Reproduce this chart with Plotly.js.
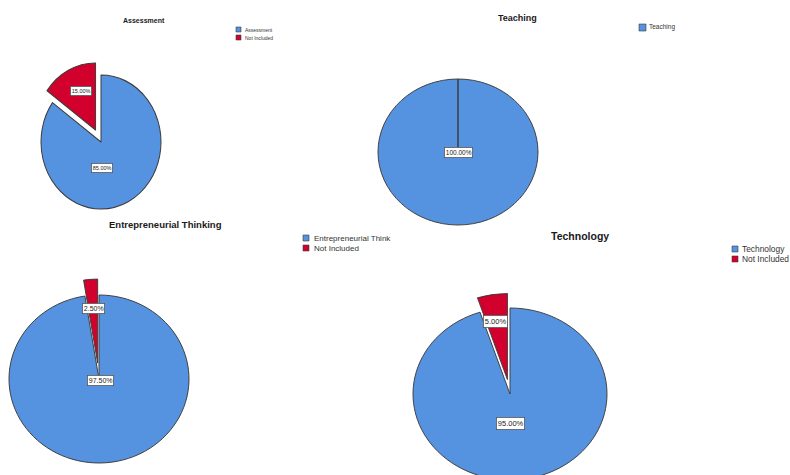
<!DOCTYPE html>
<html>
<head>
<meta charset="utf-8">
<script src="https://cdn.plot.ly/plotly-3.0.1.min.js"></script>
<style>
  html, body { margin: 0; padding: 0; width: 790px; height: 475px; overflow: hidden; background: #ffffff; }
  .pie { position: absolute; left: -150px; top: -150px; width: 1090px; height: 775px; pointer-events: none; }
  #overlay { position: absolute; left: 0; top: 0; width: 790px; height: 475px; }
</style>
</head>
<body>
<div id="pie0" class="pie"></div>
<div id="pie1" class="pie"></div>
<div id="pie2" class="pie"></div>
<div id="pie3" class="pie"></div>
<div id="overlay"></div>
<script>
// ---- data ----
const chartTitles = ["Assessment", "Teaching", "Entrepreneurial Thinking", "Technology"];
const assessmentLabels = ["Assessment", "Not Included"];
const assessmentValues = [85.0, 15.0];
const teachingLabels = ["Teaching", "Not Included"];
const teachingValues = [100.0, 0.0];
const entrepreneurialLabels = ["Entrepreneurial Think", "Not Included"];
const entrepreneurialValues = [97.5, 2.5];
const technologyLabels = ["Technology", "Not Included"];
const technologyValues = [95.0, 5.0];
const sliceColors = ["#5592df", "#d1002c"];

// ---- layout / style config ----
const OFF = 150, W = 790, H = 475;
const charts = [
  { labels: assessmentLabels, values: assessmentValues, legendN: 2,
    cx: 101, cy: 142, rx: 60, ry: 67, pull: [0, 0.2],
    title: { x: 144, y: 20, size: 7 },
    legend: { x: 236, y: 27, box: 5, gap: 8, size: 5, tx: 243 },
    lab: [{ x: 102, y: 168, size: 5.5 }, { x: 81, y: 91, size: 5.5 }] },
  { labels: teachingLabels, values: teachingValues, legendN: 1,
    cx: 458, cy: 152, rx: 80, ry: 73, pull: [0, 0],
    title: { x: 517, y: 18, size: 9 },
    legend: { x: 639, y: 24, box: 7, gap: 9, size: 6.5, tx: 647 },
    lab: [{ x: 458, y: 152, size: 6.5 }] },
  { labels: entrepreneurialLabels, values: entrepreneurialValues, legendN: 2,
    cx: 99, cy: 379, rx: 90, ry: 84, pull: [0, 0.19],
    title: { x: 165, y: 224, size: 9.5 },
    legend: { x: 303, y: 235, box: 6, gap: 10, size: 8, tx: 312 },
    lab: [{ x: 100, y: 380, size: 7 }, { x: 93, y: 308, size: 7 }] },
  { labels: technologyLabels, values: technologyValues, legendN: 2,
    cx: 510, cy: 394, rx: 97, ry: 86, pull: [0, 0.17],
    title: { x: 580, y: 236, size: 10.5 },
    legend: { x: 732, y: 246, box: 6, gap: 10, size: 8.4, tx: 740 },
    lab: [{ x: 510, y: 423, size: 7.5 }, { x: 495, y: 321, size: 7.5 }] }
];
chartTitles.forEach((t, i) => charts[i].titleText = t);

const FONT = "Liberation Sans, Arial, sans-serif";
const cfg = { staticPlot: true, displayModeBar: false };

// ---- pies ----
charts.forEach((c, i) => {
  const DW = W + 2 * OFF, DH = H + 2 * OFF;
  const R = c.rx;
  const maxPull = Math.max(...c.pull);
  const half = R * (1 + maxPull);
  const pcx = c.cx + OFF, pcy = c.cy + OFF;
  const el = document.getElementById("pie" + i);
  el.style.transformOrigin = pcx + "px " + pcy + "px";
  el.style.transform = "scale(1," + (c.ry / c.rx) + ")";
  Plotly.newPlot(el, [{
    type: "pie",
    labels: c.labels,
    values: c.values,
    sort: false,
    direction: "clockwise",
    rotation: 0,
    pull: c.pull,
    textinfo: "none",
    hoverinfo: "skip",
    showlegend: false,
    marker: { colors: sliceColors, line: { color: "#3c3c3c", width: 1 } },
    domain: {
      x: [(pcx - half) / DW, (pcx + half) / DW],
      y: [1 - (pcy + half) / DH, 1 - (pcy - half) / DH]
    }
  }], {
    width: DW, height: DH,
    margin: { l: 0, r: 0, t: 0, b: 0 },
    paper_bgcolor: "rgba(0,0,0,0)",
    plot_bgcolor: "rgba(0,0,0,0)"
  }, cfg);
});

// ---- titles, legends, value labels ----
const px = x => x / W, py = y => 1 - y / H;
const annotations = [], shapes = [];
charts.forEach(c => {
  annotations.push({
    xref: "paper", yref: "paper", x: px(c.title.x), y: py(c.title.y),
    xanchor: "center", yanchor: "middle", showarrow: false,
    text: "<b>" + c.titleText + "</b>",
    font: { family: FONT, size: c.title.size, color: "#1a1a1a" }
  });
  for (let k = 0; k < c.legendN; k++) {
    const y0 = c.legend.y + k * c.legend.gap;
    shapes.push({
      type: "rect", xref: "paper", yref: "paper",
      x0: px(c.legend.x), x1: px(c.legend.x + c.legend.box),
      y0: py(y0), y1: py(y0 + c.legend.box),
      fillcolor: sliceColors[k], line: { color: "#3c3c3c", width: 0.6 }
    });
    annotations.push({
      xref: "paper", yref: "paper", x: px(c.legend.tx), y: py(y0 + c.legend.box / 2),
      xanchor: "left", yanchor: "middle", showarrow: false,
      text: c.labels[k],
      font: { family: FONT, size: c.legend.size, color: "#333333" }
    });
  }
  const total = c.values.reduce((a, b) => a + b, 0);
  c.lab.forEach((l, k) => {
    annotations.push({
      xref: "paper", yref: "paper", x: px(l.x), y: py(l.y),
      xanchor: "center", yanchor: "middle", showarrow: false,
      text: (c.values[k] / total * 100).toFixed(2) + "%",
      font: { family: FONT, size: l.size, color: "#222222" },
      bgcolor: "#ffffff", bordercolor: "#555555", borderwidth: 0.8, borderpad: 1
    });
  });
});

Plotly.newPlot("overlay", [], {
  width: W, height: H,
  margin: { l: 0, r: 0, t: 0, b: 0 },
  paper_bgcolor: "rgba(0,0,0,0)",
  plot_bgcolor: "rgba(0,0,0,0)",
  xaxis: { visible: false }, yaxis: { visible: false },
  annotations: annotations, shapes: shapes
}, cfg);
</script>
</body>
</html>
